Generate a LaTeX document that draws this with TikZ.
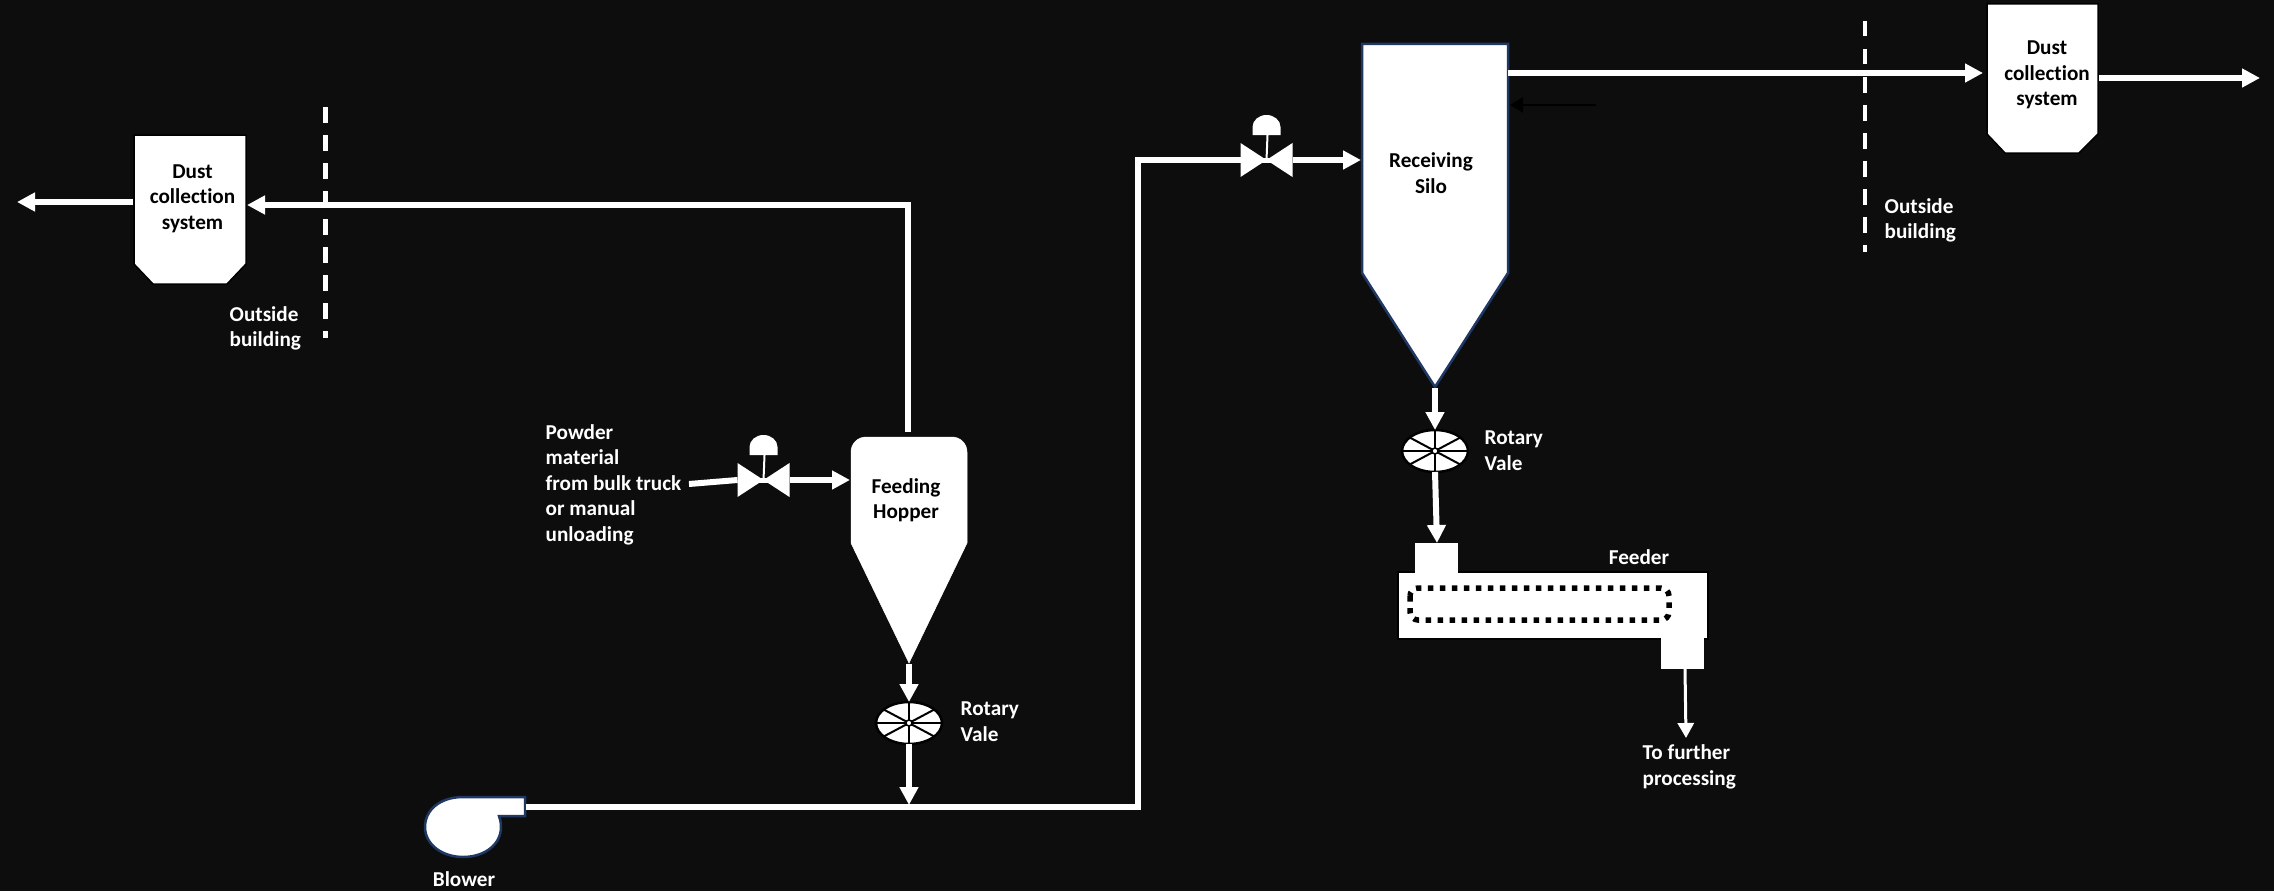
\documentclass[tikz,border=0pt]{standalone}
\usepackage{fontspec}
\setmainfont[Ligatures=NoCommon]{Carlito}
\usetikzlibrary{positioning,arrows.meta}
\definecolor{cBack}{RGB}{13,13,13}
\definecolor{cEdge}{RGB}{31,56,100}
\begin{document}
\begin{tikzpicture}[x=1pt,y=-1pt,font=\fontsize{21.2}{25.5}\selectfont\bfseries]
\tikzset{
 pipe/.style={white,line width=6pt},
 flow/.style={pipe,-{Triangle[length=18pt,width=18pt]}},
 thin flow/.style={white,line width=3pt,-{Triangle[length=15pt,width=16pt]}},
 vessel/.style={fill=white,draw=cEdge,line width=2.5pt},
 unit/.style={fill=white,draw=black,line width=1.5pt},
 lbl/.style={text=white,align=left,inner sep=0},
 eqlbl/.style={text=black,align=center,inner sep=0},
 wallline/.style={white,line width=4.5pt,dash pattern=on 15.5pt off 12.5pt},
 gate/.pic={
  \fill[white] (-26,-17) -- (26,17) -- (26,-17) -- (-26,17) -- cycle;
  \draw[white,line width=5pt] (-8,0) -- (8,0);
  \draw[white,line width=2pt] (0,0) -- (1,-25);
  \fill[white] (-14,-25) -- (-14,-33) arc[start angle=180,end angle=360,x radius=14,y radius=12] -- (14,-25) -- cycle;
  \coordinate (-in) at (-26,0);
  \coordinate (-out) at (26,0);
 },
 rotary/.pic={
  \draw[fill=white,draw=black,line width=2.5pt] (0,0) ellipse[x radius=33,y radius=21];
  \foreach \a in {0,40,90,140}
   \draw[black,line width=2pt] (\a:33 and 21) -- (\a+180:33 and 21);
  \draw[fill=white,draw=black,line width=1.5pt] (0,0) circle[radius=3];
  \coordinate (-in) at (0,-21);
  \coordinate (-out) at (0,21);
 }
}
\useasboundingbox[fill=cBack] (0,0) rectangle (2274,891);

% building walls
\coordinate (wallAtop) at (325.5,107);
\coordinate (wallAend) at (325.5,338);
\coordinate (wallBtop) at (1865,21);
\coordinate (wallBend) at (1865,252);
\draw[wallline] (wallAtop) -- (wallAend);
\draw[wallline] (wallBtop) -- (wallBend);

% dust units
\draw[unit] (134,135) -- (246,135) -- (246,264) -- (227,284) -- (153,284) -- (134,264) -- cycle;
\node[eqlbl] (dustA) at (192.5,198.5) {Dust\\collection\\system};
\draw[unit] (1987,4) -- (2098,4) -- (2098,134) -- (2079,153) -- (2005,153) -- (1987,134) -- cycle;
\node[eqlbl] (dustB) at (2047,75) {Dust\\collection\\system};

% hopper and silo
\draw[fill=white,draw=white,line width=0.5pt] (851,543) -- (851,452) arc[start angle=180,end angle=270,radius=15] -- (952,437) arc[start angle=270,end angle=360,radius=15] -- (967,543) -- (909,663) -- cycle;
\node[eqlbl] (hopper) at (906,500) {Feeding\\Hopper};
\draw[vessel] (1362,44) -- (1508,44) -- (1508,273) -- (1435,387) -- (1362,273) -- cycle;
\node[eqlbl] (silo) at (1431,173) {Receiving\\Silo};

% blower
\draw[vessel] (525,797) -- (463,797) .. controls (440,797) and (425,810) .. (425,827) .. controls (425,845) and (443,857) .. (463,857) .. controls (484,857) and (501,845) .. (501,827) .. controls (501,822) and (500,819) .. (499,816) -- (525,816) -- cycle;
\node[lbl] (blower) at (464,879.5) {Blower};

% feeder
\draw[unit] (1398,572) rectangle (1708,639);
\fill[white] (1415,543) rectangle (1458,575);
\fill[white] (1661,636) rectangle (1704,669);
\draw[black,line width=5.5pt,rounded corners=8pt,dash pattern=on 5.5pt off 6.5pt] (1410,588) rectangle (1669,620);
\node[lbl] (feeder) at (1639,557.5) {Feeder};

% valves
\pic (valveA) at (763.5,480) {gate};
\pic (valveB) at (1266.5,160) {gate};
\pic (rotA) at (909,723) {rotary};
\pic (rotB) at (1435,451) {rotary};

% free ends of the pipes
\coordinate (hopperTop) at (908,432);
\coordinate (hopperIn) at (850,480);
\coordinate (hopperTip) at (909,664);
\coordinate (dustAin) at (247,205);
\coordinate (dustAout) at (133,202);
\coordinate (ventA) at (17,202);
\coordinate (truck) at (689,484);
\coordinate (lineJoin) at (909,805);
\coordinate (blowerOut) at (526,807);
\coordinate (riserFoot) at (1138,807);
\coordinate (riserTop) at (1138,160);
\coordinate (siloIn) at (1361,160);
\coordinate (siloOut) at (1508,73);
\coordinate (dustBin) at (1983,73);
\coordinate (dustBout) at (2099,78);
\coordinate (ventB) at (2260,78);
\coordinate (siloTip) at (1435,388);
\coordinate (feederIn) at (1437,543);
\coordinate (feederOut) at (1685,669);
\coordinate (onward) at (1686,738);
\coordinate (blackFrom) at (1596,105);
\coordinate (blackTo) at (1510,105);

\draw[flow] (dustAout) -- (ventA);
\draw[flow] (hopperTop) |- (dustAin);
\draw[pipe] (truck) -- (valveA-in);
\draw[flow] (valveA-out) -- (hopperIn);
\draw[flow] (hopperTip) -- (rotA-in);
\draw[flow] (rotA-out) -- (lineJoin);
\draw[pipe] (blowerOut) -- (riserFoot) -- (riserTop) -- (valveB-in);
\draw[flow] (valveB-out) -- (siloIn);
\draw[flow] (siloOut) -- (dustBin);
\draw[flow] (dustBout) -- (ventB);
\draw[flow] (siloTip) -- (rotB-in);
\draw[flow] (rotB-out) -- (feederIn);
\draw[thin flow] (feederOut) -- (onward);
\draw[black,line width=2.5pt,-{Triangle[length=13pt,width=15pt]}] (blackFrom) -- (blackTo);

% texts
\node[lbl] (outA) at (229.5,328.5) [anchor=west] {Outside\\building};
\node[lbl] (outB) at (1884.5,220.5) [anchor=west] {Outside\\building};
\node[lbl] (powder) at (545.5,484.5) [anchor=west] {Powder\\material\\from bulk truck\\or manual\\unloading};
\node[lbl] (rotAtxt) at (960.5,721.5) [anchor=west] {Rotary\\Vale};
\node[lbl] (rotBtxt) at (1484.5,450.5) [anchor=west] {Rotary\\Vale};
\node[lbl] (further) at (1642.5,767) [anchor=west] {To further\\processing};
\end{tikzpicture}
\end{document}
